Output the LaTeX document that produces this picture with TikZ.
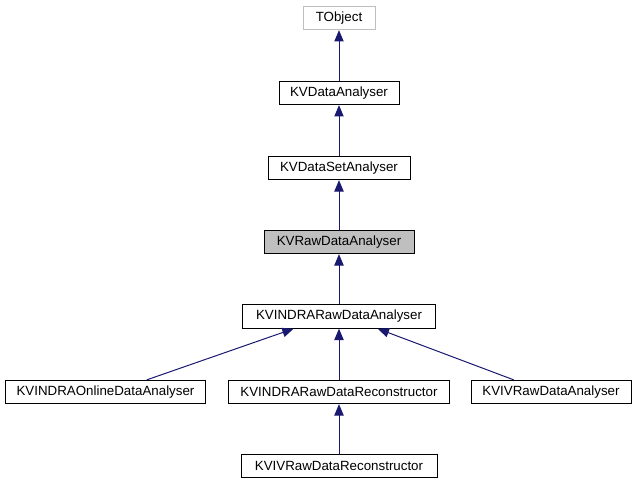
\documentclass[tikz,border=0pt]{standalone}
\usepackage{fontspec}
\setmainfont{Liberation Sans}
\usetikzlibrary{arrows.meta}
\definecolor{edgeblue}{RGB}{25,25,112}
\definecolor{boxgray}{RGB}{191,191,191}
\tikzset{
    cls/.style={draw=black, line width=0.75pt, fill=white, font=\fontsize{10pt}{12pt}\selectfont,
        inner xsep=0pt, inner ysep=0pt, minimum height=17.5pt, anchor=center},
    inherit/.style={draw=edgeblue, line width=0.75pt, -{Triangle[length=8.5pt,width=7pt]}, color=edgeblue}
}
\begin{document}
\begin{tikzpicture}[x=0.75pt, y=-0.75pt]
    \useasboundingbox (0,0) rectangle (636,485);

    % Level 0
    \node[cls, draw=boxgray, minimum width=54pt] (tobject) at (339,18) {TObject};
    % Level 1
    \node[cls, minimum width=90pt] (dataan) at (339,93) {KVDataAnalyser};
    % Level 2
    \node[cls, minimum width=106.5pt] (datasetan) at (339,168) {KVDataSetAnalyser};
    % Level 3 (this class)
    \node[cls, fill=boxgray, minimum width=112.5pt] (rawan) at (339,242) {KVRawDataAnalyser};
    % Level 4
    \node[cls, minimum width=145pt] (indraraw) at (339,316.5) {KVINDRARawDataAnalyser};
    % Level 5
    \node[cls, minimum width=149.5pt] (online) at (105.5,392) {KVINDRAOnlineDataAnalyser};
    \node[cls, minimum width=166pt] (indrareco) at (339,392) {KVINDRARawDataReconstructor};
    \node[cls, minimum width=120pt] (ivraw) at (551,392) {KVIVRawDataAnalyser};
    % Level 6
    \node[cls, minimum width=147pt] (ivreco) at (339,466) {KVIVRawDataReconstructor};

    % Arrows
    \draw[inherit] (dataan) -- (tobject);
    \draw[inherit] (datasetan) -- (dataan);
    \draw[inherit] (rawan) -- (datasetan);
    \draw[inherit] (indraraw) -- (rawan);
    \draw[inherit] (indrareco) -- (indraraw);
    \draw[inherit] ([xshift=31pt]online.north) -- ([xshift=-34pt]indraraw.south);
    \draw[inherit] ([xshift=-28pt]ivraw.north) -- ([xshift=29pt]indraraw.south);
    \draw[inherit] (ivreco) -- (indrareco);
\end{tikzpicture}
\end{document}
